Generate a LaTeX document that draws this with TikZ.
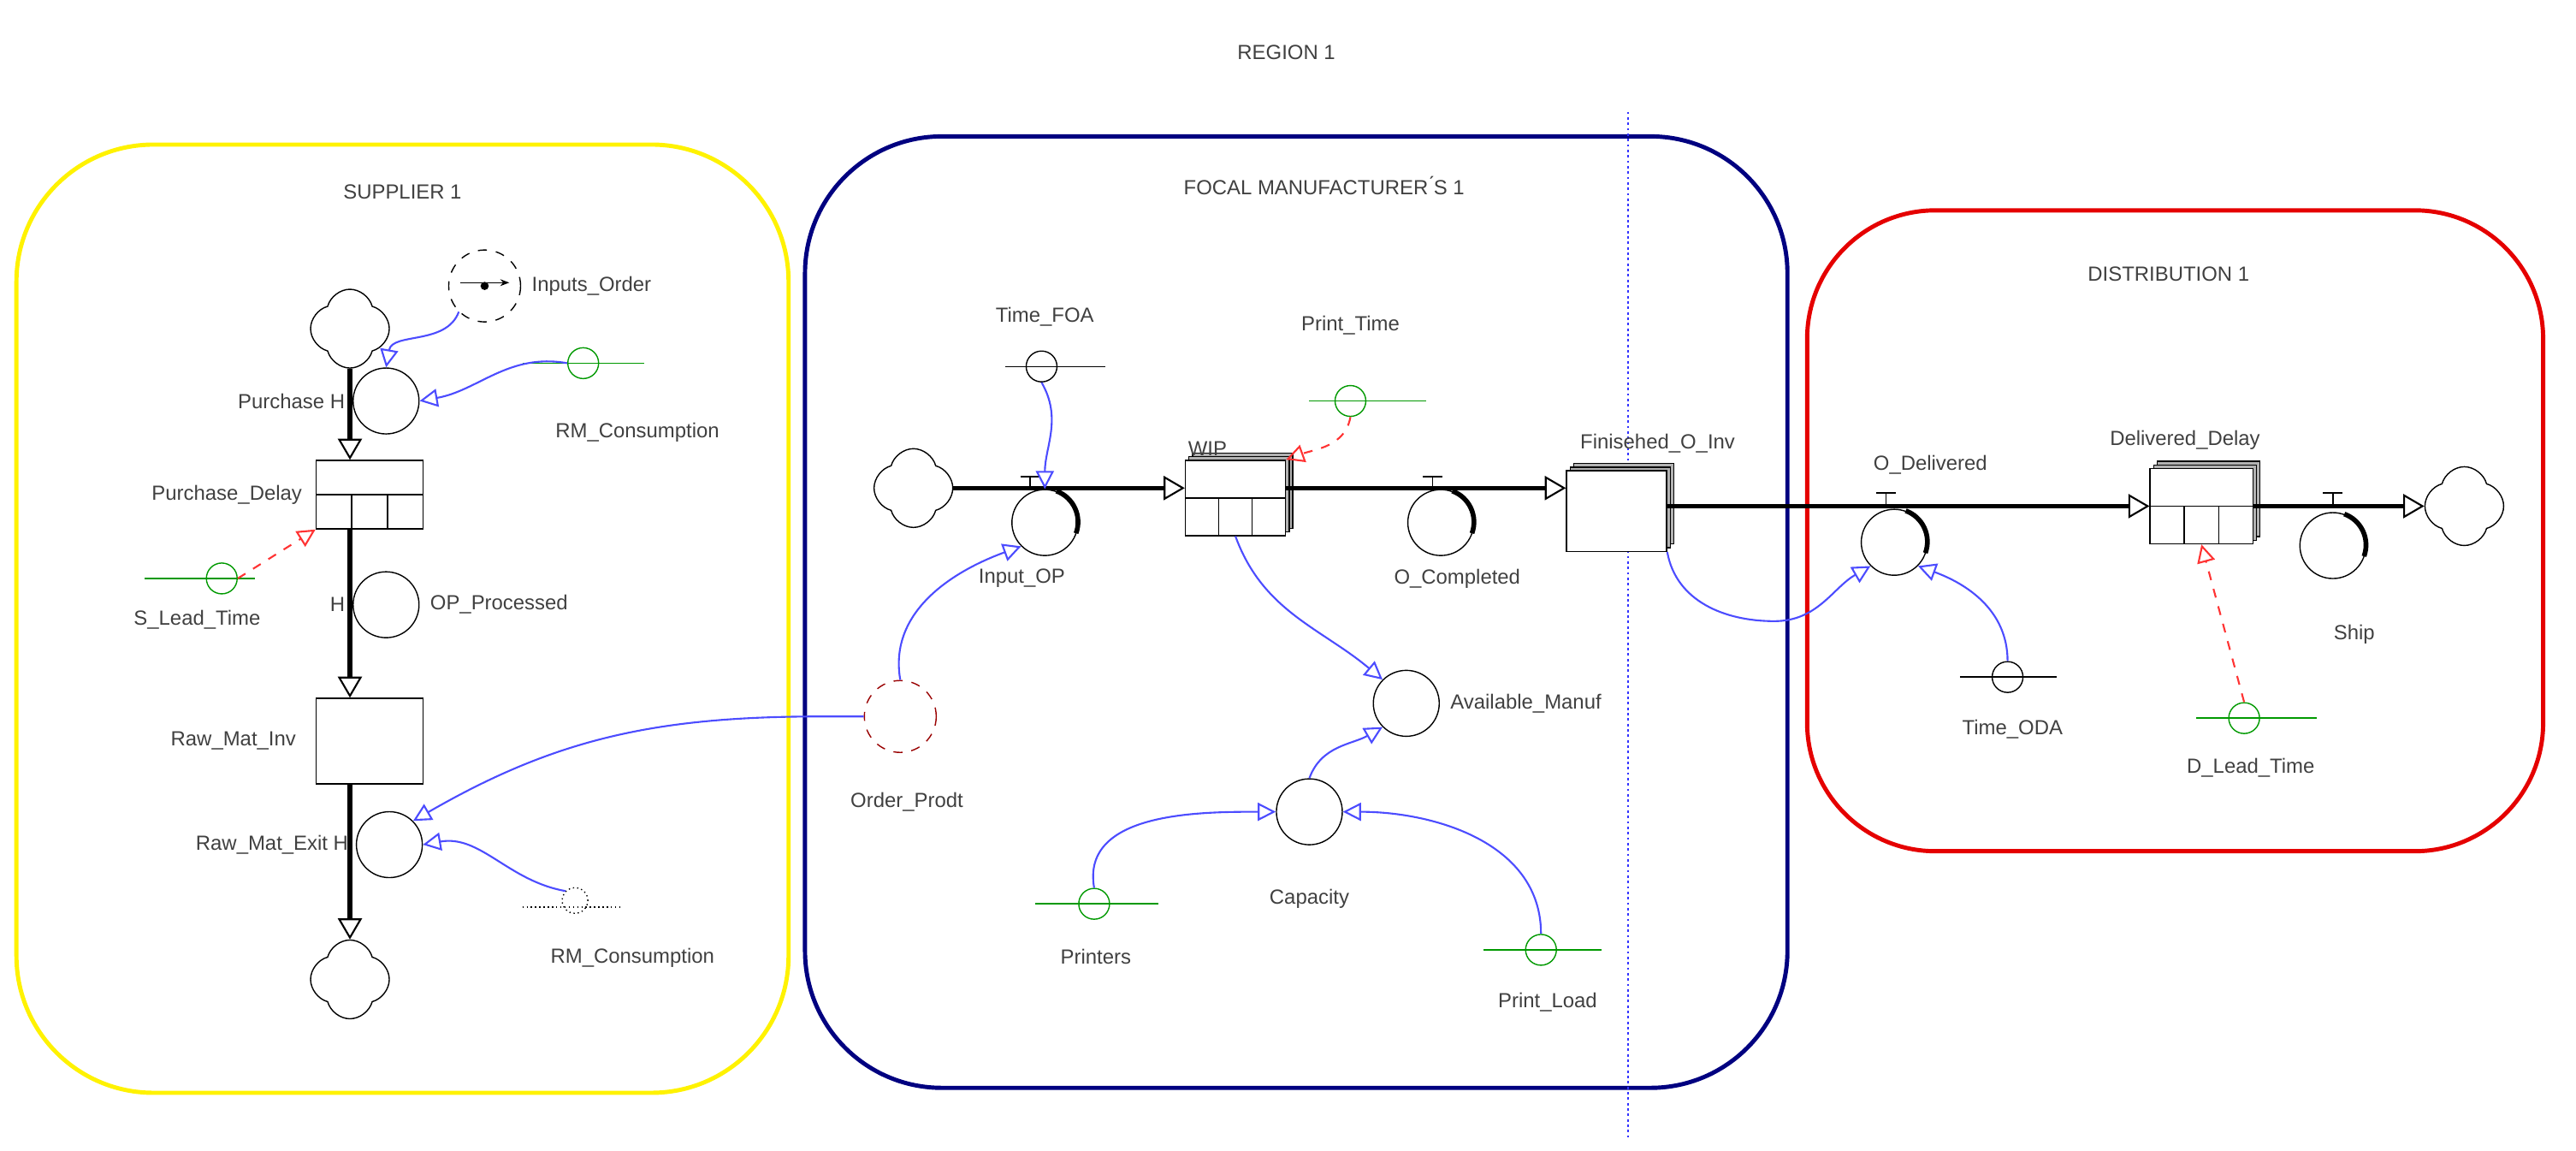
\documentclass[tikz,border=0pt]{standalone}
\usepackage{fontspec}
\setmainfont{Liberation Sans}
\usetikzlibrary{arrows.meta,shapes.symbols,shadows,positioning,calc}
\tikzset{
    every node/.style={font=\fontsize{6.8}{8}\selectfont,text=black!75},
    valve/.style={circle,draw,minimum size=.77cm,inner sep=0pt},
    conv/.style={circle,draw,minimum size=.36cm,inner sep=0pt},
    src/.style={cloud,cloud puffs=4,aspect=1,draw,minimum size=.92cm,inner sep=0pt},
    stock/.style={rectangle,draw,fill=white,inner sep=0pt},
    delay/.style={stock,path picture={
        \draw (path picture bounding box.west) -- (path picture bounding box.east);
        \draw ($(path picture bounding box.south west)!.333!(path picture bounding box.south east)$) -- (path picture bounding box.center -| {$(path picture bounding box.south west)!.333!(path picture bounding box.south east)$});
        \draw ($(path picture bounding box.south west)!.667!(path picture bounding box.south east)$) -- (path picture bounding box.center -| {$(path picture bounding box.south west)!.667!(path picture bounding box.south east)$});}},
    shade3d/.style={double copy shadow={shadow xshift=1.2pt,shadow yshift=1.2pt,fill=gray!60}},
    flow/.style={line width=1.6pt,-{Triangle[open,length=7pt,width=8pt,line width=.6pt]}},
    link/.style={blue!70,semithick,-{Triangle[open,length=6pt,width=6pt]}},
    redlink/.style={red!80,semithick,dashed,-{Triangle[open,length=6pt,width=6pt]}},
    region/.style={line width=1.4pt,rounded corners=1.6cm},
}
\begin{document}
\begin{tikzpicture}[x=0.0192cm,y=-0.0192cm]
    \useasboundingbox (0,0) rectangle (1568,700);
    % regions
    \draw[region,yellow] (10,88) rectangle (480,665);
    \draw[region,blue!50!black] (490,83) rectangle (1088,662);
    \draw[region,red!90!black,rounded corners=1.5cm] (1100,128) rectangle (1548,518);
    \draw[blue!80,densely dotted,thick] (991,68) -- (991,692);
    \node at (783,32) {REGION 1};
    \node at (245,117) {SUPPLIER 1};
    \node at (806,113) {FOCAL MANUFACTURER\'{}S 1};
    \node at (1320,167) {DISTRIBUTION 1};
    % supplier
    \node[src] (c1) at (213,200) {};
    \node[valve] (purch) at (235,244) {};
    \node[left=-1pt of purch] {Purchase H};
    \node[delay] (pdelay) at (225,301) [minimum width=1.25cm,minimum height=.8cm] {};
    \node[left=1pt of pdelay] {Purchase\_Delay};
    \node[valve] (opp) at (235,368) {};
    \node[right=0pt of opp] {OP\_Processed};
    \node[left=-1pt of opp] {H};
    \node[stock] (rmi) at (225,451) [minimum width=1.25cm,minimum height=1cm] {};
    \node[left=3pt of rmi] {Raw\_Mat\_Inv};
    \node[valve] (rmx) at (237,514) {};
    \node[left=-1pt of rmx] {Raw\_Mat\_Exit H};
    \node[src] (c2) at (213,596) {};
    \draw[flow] (c1) -- (c1 |- pdelay.north);
    \draw[flow] (c1 |- pdelay.south) -- (c1 |- rmi.north);
    \draw[flow] (c1 |- rmi.south) -- (c2);
    \node[conv,dashed,minimum size=.84cm] (inord) at (295,174) {};
    \draw[-{Stealth[length=3pt]}] (280,172) -- (310,172);
    \fill (295,174) circle (2.5);
    \node[right=0pt of inord] {Inputs\_Order};
    \node[conv,green!60!black] (rmc1) at (355,221) {};
    \draw[green!60!black] (318,221) -- (392,221);
    \node at (388,263) {RM\_Consumption};
    \node[conv,green!60!black] (slt) at (135,352) {};
    \draw[green!60!black] (88,352) -- (155,352);
    \node at (120,377) {S\_Lead\_Time};
    \node[conv,densely dotted,minimum size=.3cm] (rmc2) at (350,548) {};
    \draw[densely dotted] (318,552) -- (378,552);
    \node at (385,583) {RM\_Consumption};
    \draw[link] (inord.south west) to[out=250,in=80] (purch.north);
    \draw[link] (rmc1.west) to[out=170,in=10] (purch.east);
    \draw[redlink] (slt.east) -- (pdelay.south west);
    \draw[link] (rmc2.north west) to[out=170,in=10] (rmx.east);
    % manufacturer
    \node[src] (c3) at (556,297) {};
    \node[valve] (inop) at (636,318) {};
    \node at (622,352) {Input\_OP};
    \node[delay,shade3d] (wip) at (752,303) [minimum width=1.17cm,minimum height=.88cm] {};
    \node at (735,273) {WIP};
    \node[valve] (ocomp) at (877,318) {};
    \node at (887,352) {O\_Completed};
    \node[stock,shade3d] (finv) at (984,311) [minimum width=1.17cm,minimum height=.94cm] {};
    \node at (1009,270) {Finisehed\_O\_Inv};
    \draw[flow] (c3.east) -- (c3.east -| wip.west);
    \draw[flow] (wip.east |- c3.east) -- (finv.west |- c3.east);
    \draw (627,290) -- (627,297) (621,290) -- (633,290);
    \draw (872,290) -- (872,297) (866,290) -- (878,290);
    \node[conv] (tfoa) at (634,223) {};
    \draw (612,223) -- (673,223);
    \node at (636,193) {Time\_FOA};
    \node[conv,green!60!black] (ptime) at (822,244) {};
    \draw[green!60!black] (797,244) -- (868,244);
    \node at (822,198) {Print\_Time};
    \node[conv,dashed,red!60!black,minimum size=.84cm] (ordp) at (548,436) {};
    \node at (552,488) {Order\_Prodt};
    \node[valve] (avm) at (856,428) {};
    \node[right=0pt of avm] {Available\_Manuf};
    \node[valve] (cap) at (797,494) {};
    \node at (797,547) {Capacity};
    \node[conv,green!60!black] (prn) at (666,550) {};
    \draw[green!60!black] (630,550) -- (705,550);
    \node at (667,582) {Printers};
    \node[conv,green!60!black] (pload) at (938,578) {};
    \draw[green!60!black] (903,578) -- (975,578);
    \node at (942,610) {Print\_Load};
    \draw[link] (tfoa.south) to[out=-60,in=90] (inop.north);
    \draw[redlink] (ptime.south) to[out=-100,in=20] (wip.north east);
    \draw[link] (ordp.north) to[out=100,in=200] (inop.south west);
    \draw[link] (ordp.west) to[out=180,in=0] (500,436) to[out=180,in=30] (rmx.north east);
    \draw[link] (wip.south) to[out=-70,in=140] (avm.north west);
    \draw[link] (cap.north) to[out=70,in=210] (avm.south west);
    \draw[link] (prn.north) to[out=100,in=180] (cap.west);
    \draw[link] (pload.north) to[out=90,in=0] (cap.east);
    % distribution
    \node[valve] (odel) at (1153,330) {};
    \node at (1175,283) {O\_Delivered};
    \node[delay,shade3d] (ddel) at (1340,308) [minimum width=1.2cm,minimum height=.88cm] {};
    \node at (1330,268) {Delivered\_Delay};
    \node[valve] (ship) at (1420,332) {};
    \node at (1433,386) {Ship};
    \node[src] (c4) at (1500,308) {};
    \draw[flow] (finv.east |- ddel.west) -- (ddel.west);
    \draw[flow] (ddel.east) -- (c4);
    \draw (1148,300) -- (1148,308) (1142,300) -- (1154,300);
    \draw (1420,300) -- (1420,308) (1414,300) -- (1426,300);
    \node[conv] (toda) at (1222,412) {};
    \draw (1193,412) -- (1252,412);
    \node at (1225,444) {Time\_ODA};
    \node[conv,green!60!black] (dlt) at (1366,437) {};
    \draw[green!60!black] (1337,437) -- (1410,437);
    \node at (1370,467) {D\_Lead\_Time};
    \draw[link] (finv.south east) to[out=-80,in=180] (1080,378) to[out=0,in=210] (odel.south west);
    \draw[link] (toda.north) to[out=90,in=-20] (odel.south east);
    \draw[redlink] (dlt.north) -- (ddel.south);
    % shaded valve rims
    \foreach \v in {inop,ocomp,odel,ship}
        \draw[line width=1.6pt] (\v.70) arc (70:-20:.385cm);
\end{tikzpicture}
\end{document}
